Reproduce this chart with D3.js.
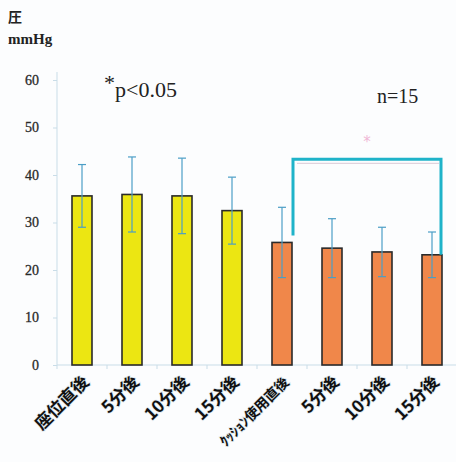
<!DOCTYPE html>
<html>
<head>
<meta charset="utf-8">
<script src="https://cdn.jsdelivr.net/npm/d3@7"></script>
<style>
  html, body { margin: 0; padding: 0; background: #fcfdfe; }
  svg { display: block; }
</style>
</head>
<body>
<svg id="chart" width="456" height="462"></svg>
<script>
// Categories: seated (yellow) then cushion use (orange), measured over time
const categories = ["座位直後", "5分後", "10分後", "15分後", "ｸｯｼｮﾝ使用直後", "5分後 ", "10分後 ", "15分後 "];
const groups = ["seat", "seat", "seat", "seat", "cushion", "cushion", "cushion", "cushion"];
const means = [35.6, 35.9, 35.6, 32.5, 25.8, 24.6, 23.8, 23.2];
const sds = [6.6, 7.9, 7.95, 7.05, 7.4, 6.2, 5.2, 4.8];
const yTicks = [0, 10, 20, 30, 40, 50, 60];
const bracketFrom = 4, bracketTo = 7, bracketLevel = 43.3;

const svg = d3.select("#chart");
const colors = { seat: "#ece612", cushion: "#f0874a" };
const axisColor = "#c9dde8";
const serif = "'Liberation Serif', 'DejaVu Serif', serif";

const x = d3.scaleBand().domain(categories).range([57, 457]).paddingInner(0.6).paddingOuter(0.3);
const y = d3.scaleLinear().domain([0, 60]).range([365, 80]);

// Y axis
const yAxis = svg.append("g").attr("transform", "translate(57,0)")
  .call(d3.axisLeft(y).tickValues(yTicks).tickSize(4).tickPadding(14));
yAxis.select(".domain").attr("stroke", axisColor).attr("d", `M0,${y(60) - 8}V${y(0)}`);
yAxis.selectAll(".tick line").attr("stroke", axisColor);
yAxis.selectAll(".tick text")
  .attr("font-family", serif)
  .attr("font-size", 14).attr("fill", "#2a2a2a")
  .attr("stroke", "#2a2a2a").attr("stroke-width", 0.3);

// X axis
const xAxis = svg.append("g").attr("transform", `translate(0,${y(0)})`)
  .call(d3.axisBottom(x).tickSize(0).tickFormat(d => d.trim()));
xAxis.select(".domain").attr("stroke", axisColor).attr("d", `M57,0H456`);
// separators between categories
svg.append("g").selectAll("line").data(d3.range(categories.length + 1)).join("line")
  .attr("x1", i => 57 + i * x.step()).attr("x2", i => 57 + i * x.step())
  .attr("y1", y(0)).attr("y2", y(0) + 4).attr("stroke", axisColor);
xAxis.selectAll(".tick text")
  .attr("font-family", "'Noto Sans CJK JP', sans-serif")
  .attr("font-size", d => d.length > 6 ? 14 : 17)
  .attr("font-weight", "bold").attr("fill", "#111")
  .attr("text-anchor", "end")
  .attr("transform", "translate(8,18) rotate(-45)")
  .attr("dy", 0).attr("y", 0).attr("x", 0)
  .style("paint-order", "stroke").attr("stroke", "#dfe9ee").attr("stroke-width", 1.5);

// Bars
svg.append("g").selectAll("rect").data(means).join("rect")
  .attr("x", (d, i) => x(categories[i]))
  .attr("y", d => y(d))
  .attr("width", x.bandwidth())
  .attr("height", d => y(0) - y(d))
  .attr("fill", (d, i) => colors[groups[i]])
  .attr("stroke", "#2a2a2a").attr("stroke-width", 1.6);

// Error bars (mean ± SD)
const eb = svg.append("g").attr("stroke", "#4b9ec6").attr("stroke-width", 1.2);
means.forEach((m, i) => {
  const cx = x(categories[i]) + x.bandwidth() / 2;
  const top = y(m + sds[i]), bot = y(m - sds[i]);
  eb.append("line").attr("x1", cx).attr("x2", cx).attr("y1", top).attr("y2", bot);
  eb.append("line").attr("x1", cx - 4).attr("x2", cx + 4).attr("y1", top).attr("y2", top);
  eb.append("line").attr("x1", cx - 4).attr("x2", cx + 4).attr("y1", bot).attr("y2", bot);
});

// Significance bracket between cushion-use start and 15 min later
const bx1 = x(categories[bracketFrom]) + x.bandwidth() + 1;
const bx2 = x(categories[bracketTo]) + x.bandwidth() - 1;
const by = y(bracketLevel);
svg.append("line").attr("x1", bx1 + 4).attr("x2", bx2 - 2).attr("y1", by + 4).attr("y2", by + 4)
  .attr("stroke", "#d9c9d6").attr("stroke-width", 1);
svg.append("path")
  .attr("d", `M${bx1},${y(means[bracketFrom]) - 7}V${by}H${bx2}V${y(means[bracketTo])}`)
  .attr("fill", "none").attr("stroke", "#1fb3c9").attr("stroke-width", 3);
svg.append("text").attr("x", (bx1 + bx2) / 2).attr("y", by - 12)
  .attr("text-anchor", "middle").attr("font-family", "'DejaVu Sans', sans-serif")
  .attr("font-size", 15).attr("fill", "#f0b8d6").text("*");

// Annotations
svg.append("text").attr("x", 8).attr("y", 22).attr("font-family", "'Noto Sans CJK JP', sans-serif")
  .attr("font-size", 14).attr("font-weight", "bold").attr("fill", "#222").text("圧");
svg.append("text").attr("x", 8).attr("y", 44).attr("font-family", serif)
  .attr("font-size", 15).attr("font-weight", "bold").attr("fill", "#222").text("mmHg");
const pt = svg.append("text").attr("x", 104).attr("y", 97).attr("font-family", serif)
  .attr("font-size", 22).attr("fill", "#222");
pt.append("tspan").attr("dy", -7).text("*");
pt.append("tspan").attr("dy", 7).text("p<0.05");
svg.append("text").attr("x", 377).attr("y", 103).attr("font-family", serif)
  .attr("font-size", 20).attr("fill", "#222").text("n=15");
</script>
</body>
</html>
